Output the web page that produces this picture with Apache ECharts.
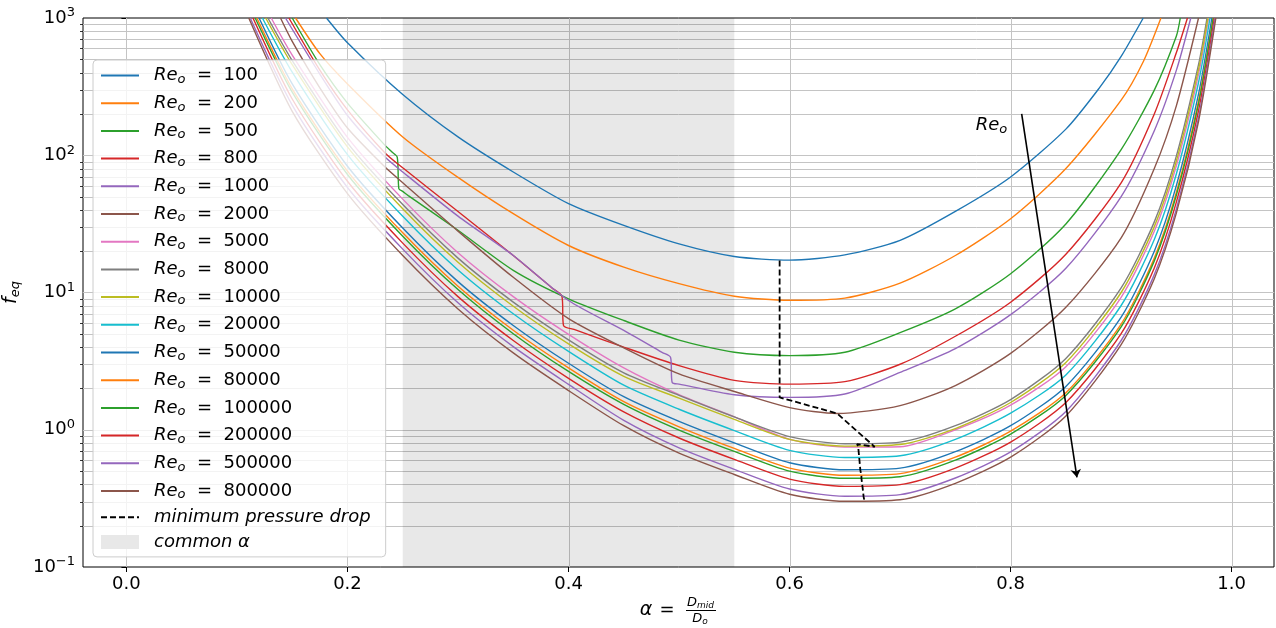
<!DOCTYPE html>
<html><head><meta charset="utf-8">
<script src="https://cdn.jsdelivr.net/npm/echarts@6/dist/echarts.min.js"></script>
<style>html,body{margin:0;padding:0;background:#fff}#c{width:1276px;height:628px}</style>
</head><body><div id="c"></div>
<script>
// ---------------- data ----------------
const reNumbers = [100, 200, 500, 800, 1000, 2000, 5000, 8000, 10000, 20000, 50000, 80000, 100000, 200000, 500000, 800000];

const re100Alpha = [0.181,0.2,0.25,0.3,0.35,0.4,0.45,0.5,0.55,0.6,0.65,0.7,0.75,0.8,0.85,0.88,0.9,0.92];
const re100F     = [1000,660,277,136,75.5,44.4,30.8,22.6,18.3,17.2,18.8,24,39,69.5,155,307,525,1000];

const re200Alpha = [0.153,0.175,0.2,0.25,0.3,0.35,0.4,0.45,0.5,0.55,0.6,0.65,0.7,0.75,0.8,0.85,0.9,0.92,0.936];
const re200F     = [1000,550,331,136,69,37.5,22,15.3,11.6,9.4,8.77,9.1,11.7,18.6,34.5,80,252,480,1000];

const re500Alpha = [0.15,0.175,0.2,0.234,0.24,0.245,0.2465,0.25,0.255,0.3,0.35,0.4,0.45,0.5,0.55,0.6,0.65,0.7,0.75,0.8,0.85,0.9,0.93,0.95,0.9535];
const re500F     = [1000,457,240,118,106,97,57,54.5,50.8,28.4,14.5,9.0,6.25,4.5,3.67,3.47,3.67,5.1,7.6,13.7,31.6,110,298,740,1000];

const re800Alpha = [0.147,0.175,0.2,0.234,0.25,0.3,0.35,0.385,0.394,0.3955,0.405,0.45,0.5,0.55,0.6,0.65,0.7,0.75,0.8,0.85,0.9,0.93,0.95,0.96];
const re800F     = [1000,417,214,104,81,38.9,18.6,10.8,9.4,5.74,5.38,4.0,2.93,2.29,2.15,2.24,3.0,4.8,8.5,19,63,200,560,1000];

const re1000Alpha = [0.1439,0.175,0.2,0.234,0.25,0.3,0.35,0.4,0.45,0.485,0.4923,0.4938,0.5,0.55,0.6,0.65,0.7,0.75,0.8,0.85,0.9,0.93,0.95,0.963];
const re1000F     = [1000,390,195,97,75.5,36,18.6,8.75,5.3,3.65,3.37,2.21,2.15,1.8,1.72,1.82,2.62,3.9,6.9,15,50,151,417,1000];

const re2000Alpha = [0.1394,0.15,0.175,0.2,0.234,0.25,0.3,0.35,0.4,0.45,0.5,0.55,0.6,0.643,0.7,0.75,0.8,0.85,0.9,0.93,0.95,0.97];
const re2000F     = [1000,676,310,158,82,63,28,12.9,6.45,3.95,2.55,1.9,1.45,1.315,1.5,2.1,3.6,7.8,25,80,230,1000];

const re5000Alpha = [0.131,0.15,0.2,0.25,0.3,0.35,0.4,0.45,0.5,0.55,0.6,0.65,0.7,0.75,0.8,0.85,0.9,0.93,0.95,0.97,0.9791];
const re5000F     = [1000,537,135,47.9,19.5,9.33,4.95,2.82,1.80,1.24,0.851,0.748,0.752,1.0,1.51,2.88,9.23,27.9,84.1,389,1000];

const re8000Alpha = [0.128,0.15,0.2,0.25,0.3,0.35,0.4,0.45,0.5,0.55,0.6,0.65,0.7,0.75,0.8,0.85,0.9,0.93,0.95,0.97,0.9777];
const re8000F     = [1000,490,123,43.7,17.8,8.51,4.52,2.60,1.78,1.24,0.891,0.791,0.813,1.07,1.66,3.31,10.8,32.7,98.9,457,1000];

const re10000Alpha = [0.126,0.15,0.2,0.25,0.3,0.35,0.4,0.45,0.5,0.55,0.6,0.65,0.7,0.75,0.8,0.85,0.9,0.93,0.95,0.97,0.9785];
const re10000F     = [1000,457,115,40.7,16.6,7.94,4.22,2.45,1.70,1.19,0.851,0.76,0.78,1.02,1.58,3.09,10.0,30.2,91.2,422,1000];

const re20000Alpha = [0.123,0.15,0.2,0.25,0.3,0.35,0.4,0.45,0.5,0.55,0.6,0.65,0.7,0.75,0.8,0.85,0.9,0.93,0.95,0.97,0.9804];
const re20000F     = [1000,403,101,35.9,14.6,7.0,3.72,2.11,1.41,0.986,0.708,0.628,0.646,0.851,1.32,2.51,8.04,24.3,73.3,339,1000];

const re50000Alpha = [0.12,0.15,0.2,0.25,0.3,0.35,0.4,0.45,0.5,0.55,0.6,0.65,0.7,0.75,0.8,0.85,0.9,0.93,0.95,0.97,0.9821];
const re50000F     = [1000,331,83.2,29.5,12.0,5.75,3.05,1.74,1.15,0.802,0.575,0.511,0.525,0.692,1.07,2.07,6.61,20.0,60.3,279,1000];

const re80000Alpha = [0.118,0.15,0.2,0.25,0.3,0.35,0.4,0.45,0.5,0.55,0.6,0.65,0.7,0.75,0.8,0.85,0.9,0.93,0.95,0.97,0.9832];
const re80000F     = [1000,305,76.7,27.2,11.1,5.31,2.82,1.60,1.05,0.731,0.525,0.466,0.479,0.631,0.977,1.86,5.89,17.8,53.7,248,1000];

const re100000Alpha = [0.1165,0.15,0.2,0.25,0.3,0.35,0.4,0.45,0.5,0.55,0.6,0.65,0.7,0.75,0.8,0.85,0.9,0.93,0.95,0.97,0.9833];
const re100000F     = [1000,288,72.4,25.7,10.5,5.01,2.66,1.53,0.995,0.695,0.499,0.443,0.455,0.600,0.929,1.78,5.62,17.0,51.3,237,1000];

const re200000Alpha = [0.1145,0.15,0.2,0.25,0.3,0.35,0.4,0.45,0.5,0.55,0.6,0.65,0.7,0.75,0.8,0.85,0.9,0.93,0.95,0.97,0.9844];
const re200000F     = [1000,257,64.6,22.9,9.33,4.47,2.37,1.35,0.871,0.608,0.437,0.387,0.398,0.525,0.813,1.58,5.01,15.1,45.7,211,1000];

const re500000Alpha = [0.112,0.15,0.2,0.25,0.3,0.35,0.4,0.45,0.5,0.55,0.6,0.65,0.7,0.75,0.8,0.85,0.9,0.93,0.95,0.97,0.9851];
const re500000F     = [1000,232,58.2,20.7,8.41,4.03,2.14,1.17,0.738,0.515,0.370,0.328,0.337,0.445,0.689,1.36,4.47,13.5,40.7,188,1000];

const re800000Alpha = [0.1107,0.15,0.2,0.25,0.3,0.35,0.4,0.45,0.5,0.55,0.6,0.65,0.7,0.75,0.8,0.85,0.9,0.93,0.95,0.97,0.9857];
const re800000F     = [1000,209,52.5,18.6,7.59,3.63,1.93,1.07,0.676,0.472,0.339,0.301,0.309,0.407,0.631,1.26,4.17,12.6,38.0,176,1000];

const minDropAlpha = [0.591,0.591,0.591,0.591,0.591,0.643,0.677,0.661,0.662,0.663,0.664,0.665,0.665,0.666,0.667,0.668];
const minDropF     = [17.1,8.75,3.47,2.15,1.72,1.315,0.751,0.787,0.76,0.628,0.51,0.461,0.444,0.384,0.324,0.297];

const commonAlphaRange = [0.25, 0.55];
const arrowFrom = [0.81, 200];
const arrowTo   = [0.86, 0.45];
const reLabelAt = [0.797, 166];

const xTickValues = [0, 0.2, 0.4, 0.6, 0.8, 1.0];
const yMajorTicks = [0.1, 1, 10, 100, 1000];
const yMinorTicks = [0.2,0.3,0.4,0.5,0.6,0.7,0.8,0.9, 2,3,4,5,6,7,8,9, 20,30,40,50,60,70,80,90, 200,300,400,500,600,700,800,900];

// ---------------- styling ----------------
const curveAlphas = [re100Alpha,re200Alpha,re500Alpha,re800Alpha,re1000Alpha,re2000Alpha,re5000Alpha,re8000Alpha,re10000Alpha,re20000Alpha,re50000Alpha,re80000Alpha,re100000Alpha,re200000Alpha,re500000Alpha,re800000Alpha];
const curveFs = [re100F,re200F,re500F,re800F,re1000F,re2000F,re5000F,re8000F,re10000F,re20000F,re50000F,re80000F,re100000F,re200000F,re500000F,re800000F];
const tab10 = ['#1f77b4','#ff7f0e','#2ca02c','#d62728','#9467bd','#8c564b','#e377c2','#7f7f7f','#bcbd22','#17becf'];
const FONT = 'DejaVu Sans';
const GRID_COLOR = '#c4c4c4';
const BAND_COLOR = '#e8e8e8';
const BAND_FILL = 'rgba(0,0,0,0.09)';
const zip = (a, b) => a.map((v, i) => [v, b[i]]);

const series = [];
// horizontal grid lines (major + minor) with minor ticks on the left spine
series.push({
  name: '_hgrid', type: 'custom', z: 2, silent: true,
  data: yMajorTicks.slice(1, -1).map(v => [0.5, v, 0]).concat(yMinorTicks.map(v => [0.5, v, 1])),
  renderItem: (params, api) => {
    const cs = params.coordSys;
    const y = Math.round(api.coord([0.5, api.value(1)])[1]) + 0.5;
    const children = [{ type: 'line', shape: { x1: cs.x, y1: y, x2: cs.x + cs.width, y2: y }, style: { stroke: GRID_COLOR, lineWidth: 1 } }];
    if (api.value(2) === 1) children.push({ type: 'line', shape: { x1: cs.x - 3, y1: y, x2: cs.x, y2: y }, style: { stroke: '#000', lineWidth: 0.8 } });
    return { type: 'group', children };
  }
});
// vertical grid lines
series.push({
  name: '_vgrid', type: 'custom', z: 2, silent: true,
  data: xTickValues.map(v => [v, 1]),
  renderItem: (params, api) => {
    const cs = params.coordSys;
    const x = Math.round(api.coord([api.value(0), 1])[0]) + 0.5;
    return { type: 'line', shape: { x1: x, y1: cs.y, x2: x, y2: cs.y + cs.height }, style: { stroke: GRID_COLOR, lineWidth: 1 } };
  }
});
// shaded "common α" band (translucent so the grid stays visible through it)
series.push({
  name: 'common α', type: 'custom', z: 2, silent: true,
  itemStyle: { color: BAND_COLOR },
  data: [[commonAlphaRange[0], commonAlphaRange[1]]],
  encode: { x: [0, 1] },
  renderItem: (params, api) => {
    const cs = params.coordSys;
    const x0 = api.coord([api.value(0), 1])[0];
    const x1 = api.coord([api.value(1), 1])[0];
    return { type: 'rect', shape: { x: x0, y: cs.y, width: x1 - x0, height: cs.height }, style: { fill: BAND_FILL } };
  }
});
reNumbers.forEach((re, i) => {
  series.push({
    name: 'Re_o = ' + re, type: 'line', z: 3,
    data: zip(curveAlphas[i], curveFs[i]),
    showSymbol: false, symbol: 'none', smooth: 0.25,
    color: tab10[i % 10],
    lineStyle: { width: 1.4, color: tab10[i % 10] },
    emphasis: { disabled: true }
  });
});
series.push({
  name: 'minimum pressure drop', type: 'line', z: 4,
  data: zip(minDropAlpha, minDropF), showSymbol: false, symbol: 'none', color: '#000',
  lineStyle: { color: '#000', width: 1.8, type: [6, 3] }, emphasis: { disabled: true }
});
series.push({
  name: '_arrow', type: 'line', data: [], z: 4,
  markLine: { silent: true, symbol: ['none', 'arrow'], symbolSize: 8, animation: false,
    label: { show: false }, lineStyle: { color: '#000', width: 1.6, type: 'solid' },
    data: [[{ coord: arrowFrom }, { coord: arrowTo }]] },
  markPoint: { silent: true, symbol: 'circle', symbolSize: 0, animation: false,
    data: [{ coord: reLabelAt }],
    label: { show: true, position: 'left', distance: 0, formatter: '{i|Re}{s|o}',
      rich: { i: { fontFamily: FONT, fontStyle: 'italic', fontSize: 18, color: '#000' },
              s: { fontFamily: FONT, fontStyle: 'italic', fontSize: 13, color: '#000', padding: [9, 0, 0, 0] } } } }
});

const legendData = reNumbers.map(re => ({ name: 'Re_o = ' + re }))
  .concat([{ name: 'minimum pressure drop' },
           { name: 'common α', icon: 'rect', itemStyle: { color: BAND_COLOR, opacity: 1 } }]);

const chart = echarts.init(document.getElementById('c'), null, { renderer: 'canvas' });
chart.setOption({
  animation: false,
  backgroundColor: '#fff',
  grid: { left: 83, top: 18, width: 1191, height: 549, containLabel: false, outerBoundsMode: 'none',
          show: true, borderColor: '#000', borderWidth: 1, backgroundColor: 'transparent' },
  xAxis: {
    type: 'value', min: -0.0393, max: 1.0383,
    axisLine: { show: false },
    axisTick: { show: true, customValues: xTickValues, length: 5, lineStyle: { color: '#000' } },
    axisLabel: { customValues: xTickValues, formatter: v => v.toFixed(1), fontFamily: FONT, fontSize: 18, color: '#000', margin: 8 },
    splitLine: { show: false }
  },
  yAxis: {
    type: 'log', logBase: 10, min: 0.1, max: 1000,
    axisLine: { show: false },
    axisTick: { show: true, length: 5, lineStyle: { color: '#000' } },
    axisLabel: {
      margin: 8, color: '#000',
      formatter: v => { const e = Math.round(Math.log10(v)); return '{b|10}{e|' + (e < 0 ? '\u2212' + (-e) : e) + '}'; },
      rich: { b: { fontFamily: FONT, fontSize: 18, color: '#000' },
              e: { fontFamily: FONT, fontSize: 13, color: '#000', padding: [0, 0, 10, 0] } }
    },
    splitLine: { show: false },
    name: '{i|f}{s|eq}', nameLocation: 'middle', nameRotate: 90, nameGap: 54,
    nameTextStyle: { rich: { i: { fontFamily: FONT, fontStyle: 'italic', fontSize: 19, color: '#000' },
                             s: { fontFamily: FONT, fontStyle: 'italic', fontSize: 13, color: '#000', padding: [9, 0, 0, 0] } } }
  },
  legend: {
    data: legendData, orient: 'vertical', left: 93, top: 60,
    padding: [5, 15, 6, 7], itemGap: 6.7, itemWidth: 38, itemHeight: 14,
    itemStyle: { opacity: 0 },
    backgroundColor: 'rgba(255,255,255,0.8)', borderColor: '#cccccc', borderWidth: 1, borderRadius: 4,
    selectedMode: false, inactiveColor: '#000',
    textStyle: { fontFamily: FONT, fontSize: 18, color: '#000',
      rich: { sp: { width: 10 },
              i: { fontFamily: FONT, fontStyle: 'italic', fontSize: 18, lineHeight: 22, color: '#000' },
              s: { fontFamily: FONT, fontStyle: 'italic', fontSize: 13, lineHeight: 14, padding: [8, 0, 0, 0], color: '#000' },
              t: { fontFamily: FONT, fontSize: 18, lineHeight: 22, color: '#000' },
              it: { fontFamily: FONT, fontStyle: 'italic', fontSize: 18, lineHeight: 22, color: '#000' } } },
    formatter: name => {
      if (name.indexOf('Re_o') === 0) return '{sp|}{i|Re}{s|o}{t|  =  ' + name.split('=')[1].trim() + '}';
      return '{sp|}{it|' + name + '}';
    }
  },
  graphic: [
    { type: 'text', x: 646, y: 610, style: { text: 'α', font: 'italic 19px "DejaVu Sans"', fill: '#000', textAlign: 'center', textVerticalAlign: 'middle' } },
    { type: 'text', x: 667, y: 610, style: { text: '=', font: '18px "DejaVu Sans"', fill: '#000', textAlign: 'center', textVerticalAlign: 'middle' } },
    { type: 'rect', shape: { x: 686, y: 610, width: 30, height: 1 }, style: { fill: '#000' } },
    { type: 'text', x: 700.5, y: 603, style: { text: '{a|D}{b|mid}', textAlign: 'center', textVerticalAlign: 'middle',
        rich: { a: { fontFamily: FONT, fontStyle: 'italic', fontSize: 13, fill: '#000' }, b: { fontFamily: FONT, fontStyle: 'italic', fontSize: 9, fill: '#000', padding: [5, 0, 0, 0] } } } },
    { type: 'text', x: 700, y: 619, style: { text: '{a|D}{b|o}', textAlign: 'center', textVerticalAlign: 'middle',
        rich: { a: { fontFamily: FONT, fontStyle: 'italic', fontSize: 13, fill: '#000' }, b: { fontFamily: FONT, fontStyle: 'italic', fontSize: 9, fill: '#000', padding: [5, 0, 0, 0] } } } }
  ],
  series: series
});
</script></body></html>
